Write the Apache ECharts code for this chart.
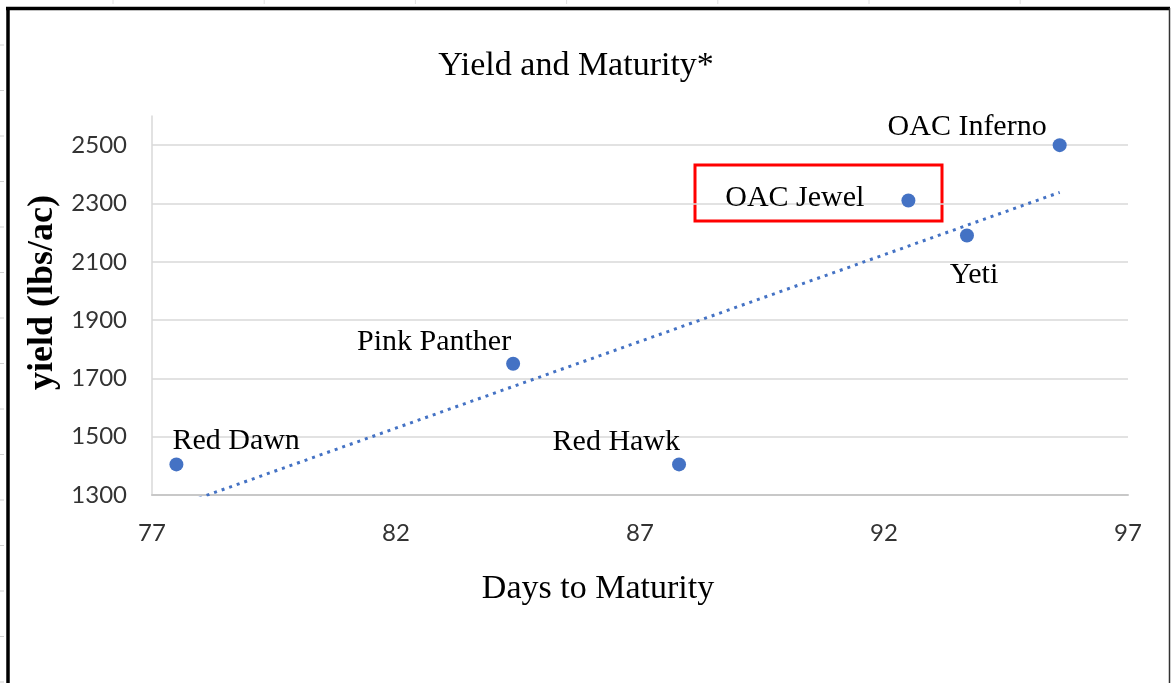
<!DOCTYPE html>
<html><head><meta charset="utf-8">
<script src="https://cdn.jsdelivr.net/npm/echarts@6/dist/echarts.min.js"></script>
<style>html,body{margin:0;padding:0;background:#fff}#c{width:1171px;height:683px}</style>
</head><body><div id="c"></div>
<script>
// ---- data ----
const varieties = ['Red Dawn', 'Pink Panther', 'Red Hawk', 'OAC Jewel', 'Yeti', 'OAC Inferno'];
const daysToMaturity = [77.5, 84.4, 87.8, 92.5, 93.7, 95.6];
const yieldLbsAc = [1405, 1750, 1405, 2310, 2190, 2500];
const trendDays = [77.5, 95.6];
const trendYield = [1262, 2338];
const xTicks = [77, 82, 87, 92, 97];
const yTicks = [1300, 1500, 1700, 1900, 2100, 2300, 2500];

// ---- label placement (styling, kept apart from the data) ----
const labelPlacement = {
  'Red Dawn':     { align: 'left',   dx: -4,  dy: -23 },
  'Pink Panther': { align: 'right',  dx: -2,  dy: -22 },
  'Red Hawk':     { align: 'right',  dx: 1,   dy: -22 },
  'OAC Jewel':    { align: 'right',  dx: -44, dy: -2 },
  'Yeti':         { align: 'center', dx: 7,   dy: 40 },
  'OAC Inferno':  { align: 'right',  dx: -13, dy: -18 }
};

const serif = '"Liberation Serif", "Times New Roman", serif';
const sans = 'Lato, "Noto Sans", sans-serif';
const blue = '#4472C4';

const points = varieties.map((name, i) => {
  const p = labelPlacement[name];
  return {
    name: name,
    value: [daysToMaturity[i], yieldLbsAc[i]],
    label: {
      show: true, position: 'inside', formatter: name,
      align: p.align, verticalAlign: 'middle', offset: [p.dx, p.dy],
      color: '#000', fontFamily: serif, fontSize: 30, textBorderWidth: 0, opacity: 1
    }
  };
});
const trend = trendDays.map((d, i) => [d, trendYield[i]]);

// decorative sheet marks outside the chart frame
const decor = [];
for (let y = 45; y < 683; y += 45.5) decor.push({ type: 'line', shape: { x1: 0, y1: y, x2: 4, y2: y }, style: { stroke: '#d0d0d0', lineWidth: 1 } });
for (let x = 113; x < 1171; x += 151.2) decor.push({ type: 'line', shape: { x1: x, y1: 0, x2: x, y2: 4 }, style: { stroke: '#e0e0e0', lineWidth: 1 } });

const chart = echarts.init(document.getElementById('c'), null, { renderer: 'canvas' });
chart.setOption({
  backgroundColor: '#fff',
  animation: false,
  title: {
    text: 'Yield and Maturity*', left: 576, top: 49, textAlign: 'center', padding: 0,
    textStyle: { fontFamily: serif, fontSize: 34, fontWeight: 'normal', color: '#000' }
  },
  grid: { left: 152, right: 43, top: 116, bottom: 188 },
  xAxis: {
    type: 'value', min: xTicks[0], max: xTicks[xTicks.length - 1], interval: xTicks[1] - xTicks[0],
    name: 'Days to Maturity', nameLocation: 'middle', nameGap: 77,
    nameTextStyle: { fontFamily: serif, fontSize: 34, color: '#000', padding: [0, 84, 0, 0] },
    axisLine: { show: true, lineStyle: { color: '#c8c8c8', width: 2 } },
    axisTick: { show: false },
    splitLine: { show: false },
    axisLabel: { fontFamily: sans, fontSize: 24, color: '#333', margin: 26, formatter: v => String(v) }
  },
  yAxis: {
    type: 'value', min: yTicks[0], max: 2600, interval: yTicks[1] - yTicks[0],
    name: 'yield (lbs/ac)', nameLocation: 'middle', nameRotate: 90, nameGap: 84,
    nameTextStyle: { fontFamily: serif, fontSize: 36, fontWeight: 'bold', color: '#000', padding: [0, 0, 0, 26] },
    axisLine: { show: true, lineStyle: { color: '#d9d9d9', width: 1.5 } },
    axisTick: { show: false },
    splitLine: { show: true, showMaxLine: false, lineStyle: { color: '#d9d9d9', width: 1.5 } },
    axisLabel: { fontFamily: sans, fontSize: 24, color: '#333', margin: 25, showMaxLabel: false, formatter: v => String(v) }
  },
  series: [
    {
      type: 'line', data: trend, symbol: 'none', silent: true, clip: true, z: 2,
      lineStyle: { color: blue, width: 3, type: [3, 5] }
    },
    {
      type: 'scatter', data: points, symbol: 'circle', symbolSize: 14, z: 3,
      itemStyle: { color: blue, opacity: 1 }
    }
  ],
  graphic: decor.concat([
    { type: 'line', shape: { x1: 8, y1: 7, x2: 8, y2: 683 }, style: { stroke: '#000', lineWidth: 3.5 } },
    { type: 'line', shape: { x1: 6, y1: 8.5, x2: 1170, y2: 8.5 }, style: { stroke: '#000', lineWidth: 3.5 } },
    { type: 'line', shape: { x1: 1169.5, y1: 8, x2: 1169.5, y2: 683 }, style: { stroke: '#333', lineWidth: 1.5 } },
    { type: 'rect', shape: { x: 695, y: 165, width: 247, height: 56 }, style: { fill: 'none', stroke: '#ff0000', lineWidth: 3 } }
  ])
});
</script>
</body></html>
